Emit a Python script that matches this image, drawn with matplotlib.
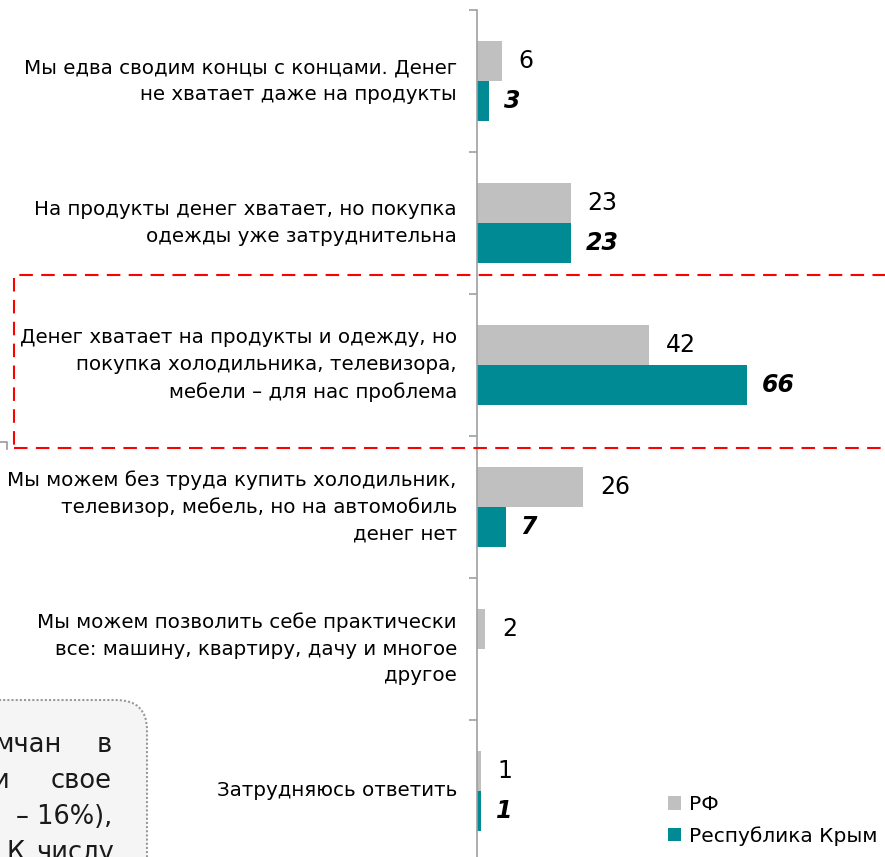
import matplotlib.pyplot as plt
import numpy as np
from matplotlib.patches import FancyBboxPatch, Rectangle
from matplotlib.lines import Line2D

categories = [
    "Мы едва сводим концы с концами. Денег\nне хватает даже на продукты",
    "На продукты денег хватает, но покупка\nодежды уже затруднительна",
    "Денег хватает на продукты и одежду, но\nпокупка холодильника, телевизора,\nмебели – для нас проблема",
    "Мы можем без труда купить холодильник,\nтелевизор, мебель, но на автомобиль\nденег нет",
    "Мы можем позволить себе практически\nвсе: машину, квартиру, дачу и многое\nдругое",
    "Затрудняюсь ответить",
]
rf_values = [6, 23, 42, 26, 2, 1]
crimea_values = [3, 23, 66, 7, None, 1]
series_names = ["РФ", "Республика Крым"]
# justified note text, cut off by the slide edge: (word, right edge px)
note_lines = [
    [("мчан", 62), ("в", 112)],
    [("и", 9), ("свое", 112)],
    [("– 16%),", 112)],
    [("К", 25), ("числу", 114)],
]

GRAY = "#C0C0C0"
TEAL = "#008A93"
W, H = 885, 857

plt.rcParams["font.family"] = ["DejaVu Sans"]
fig = plt.figure(figsize=(8.85, 8.57), dpi=100)

# axes: value axis at x=477 px, 4.09 px per unit, top at y=10
left = 477 / W
top = 1 - 10 / H
bottom = -5 / H
ax = fig.add_axes([left, bottom, 1 - left, top - bottom])
ax.set_xlim(0, (W - 477) / 4.09)
ax.set_ylim(5.5, -0.5)

y = np.arange(len(categories))
bh = 0.282
rf_bars = ax.barh(y - bh / 2, rf_values, height=bh, color=GRAY, label=series_names[0])
cr = [v if v is not None else 0 for v in crimea_values]
cr_bars = ax.barh(y + bh / 2, cr, height=bh, color=TEAL, label=series_names[1])

for i, v in enumerate(rf_values):
    ax.annotate(str(v), (v, i - bh / 2), xytext=(12, 0), textcoords="offset points",
                ha="left", va="center", fontsize=17)
for i, v in enumerate(crimea_values):
    if v is None:
        continue
    ax.annotate(str(v), (v, i + bh / 2), xytext=(10.5, 0), textcoords="offset points",
                ha="left", va="center", fontsize=17, fontweight="bold", style="italic")

for i, lab in enumerate(categories):
    ax.annotate(lab, (0, i), xytext=(-14.5, 0), textcoords="offset points",
                ha="right", va="center", fontsize=14.3, linespacing=1.5,
                annotation_clip=False)

for s in ["top", "right", "bottom"]:
    ax.spines[s].set_visible(False)
ax.spines["left"].set_color("#A0A0A0")
ax.spines["left"].set_linewidth(1.2)
ax.set_xticks([])
ax.set_yticks(np.arange(-0.5, 6, 1))
ax.set_yticklabels([])
ax.tick_params(axis="y", length=6, width=1.2, color="#A0A0A0", direction="out")

# legend
ax.legend(handles=[rf_bars, cr_bars], loc="upper left",
          bbox_to_anchor=(668 / W, 1 - 795 / H), bbox_transform=fig.transFigure,
          frameon=False, fontsize=14.5, handlelength=0.65, handleheight=0.65,
          handletextpad=0.4, labelspacing=0.6, borderaxespad=0, borderpad=0)

# red dashed highlight around the third category
fig.patches.append(Rectangle((14 / W, 1 - 448 / H), 1.0, (448 - 275) / H,
                             transform=fig.transFigure, fill=False,
                             edgecolor="#FF0000", linewidth=1.5,
                             linestyle=(0, (6.5, 4)), zorder=3))

# note box at bottom-left (partly cut off)
box = FancyBboxPatch((-100 / W, -100 / H), 247 / W, (157 + 100) / H,
                     boxstyle="round,pad=0,rounding_size=0.035",
                     transform=fig.transFigure,
                     facecolor="#F5F5F5", edgecolor="#9A9A9A",
                     linewidth=1.5, linestyle=(0, (1, 1)))
fig.patches.append(box)
for k, words in enumerate(note_lines):
    for word, xr in words:
        fig.text(xr / W, 1 - (752 + 36 * k) / H, word, ha="right", va="baseline",
                 fontsize=18.5, color="#1A1A1A")

# small corner mark
fig.lines.append(Line2D([0, 7 / W, 7 / W], [1 - 442 / H, 1 - 442 / H, 1 - 449 / H],
                        transform=fig.transFigure, color="#999999", linewidth=1.2))

fig.savefig("out.png", dpi=100)
